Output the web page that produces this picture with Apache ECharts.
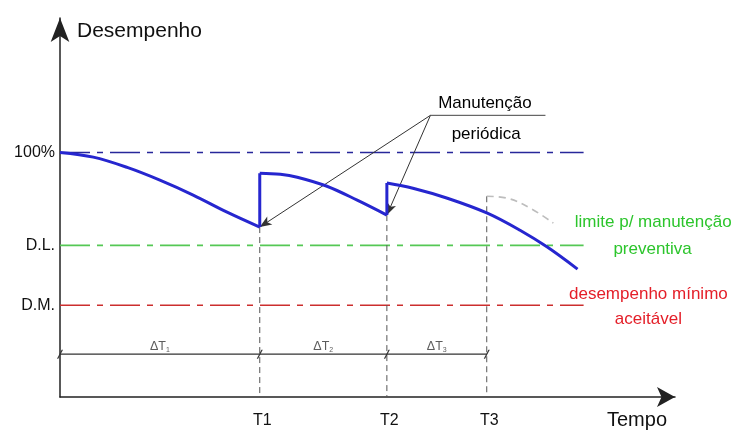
<!DOCTYPE html>
<html><head><meta charset="utf-8">
<script src="https://cdn.jsdelivr.net/npm/echarts@6/dist/echarts.min.js"></script>
<style>html,body{margin:0;padding:0;background:#fff}#c{width:735px;height:434px}</style>
</head><body><div id="c"></div><script>
// ---- data (time units on x, performance % on y) ----
const timeTicks = [33, 54, 70.5];
const timeLabels = ['T1', 'T2', 'T3'];
const levelValues = [100, 62, 37.5];
const levelLabels = ['100%', 'D.L.', 'D.M.'];
const cycle1 = [[0,100],[5.5,98.1],[11.1,93.9],[16.5,88.7],[22,82.6],[27.6,75.6],[33,69.5]];
const cycle2 = [[33,91.5],[36.4,91.1],[39.2,89.9],[44.1,86.2],[49.1,80.5],[54,74.4]];
const cycle3 = [[54,87.5],[58.3,85.4],[64,81.3],[70.6,75.2],[76,68.2],[80.5,61.3],[85.5,52.3]];
const skippedCycle = [[70.5,82.1],[73.9,81.3],[77.7,77.2],[81.5,71.1]];
const levelLineEnd = 86.5;
const intervalLevel = 17.5;
const intervalLabels = ['ΔT', 'ΔT', 'ΔT'];
const intervalSubs = ['1', '2', '3'];
const calloutOrigin = [61.2, 115.2];
const calloutEnd = [80.2, 115.2];
const calloutText = [['Manutenção', 70.2, 120.1], ['periódica', 70.4, 107.5]];
const dlText = [['limite p/ manutenção', 98.0, 71.5], ['preventiva', 97.9, 60.5]];
const dmText = [['desempenho mínimo', 97.2, 42.1], ['aceitável', 97.2, 31.9]];

const FONT = 'Liberation Sans, Arial, sans-serif';
const BLUE = '#2626cf';
const dashDot = [30, 7, 6, 7];

function seg(data, color, width, type, z) {
  return { type: 'line', data, symbol: 'none', silent: true, z: z || 2, animation: false,
    lineStyle: { color, width, type: type || 'solid' } };
}
function textSeries(items, color, size) {
  return { type: 'scatter', clip: false, silent: true, symbolSize: 1, z: 6, animation: false,
    itemStyle: { color: 'rgba(0,0,0,0)' },
    label: { show: true, position: 'inside', color, opacity: 1, fontSize: size, fontFamily: FONT, textBorderWidth: 0 },
    data: items.map(([t, x, y]) => ({ value: [x, y], label: { formatter: t } })) };
}

const refColors = ['#27279a', '#55c855', '#cc2e2e'];
const series = [];
levelValues.forEach((v, i) => series.push(seg([[0, v], [levelLineEnd, v]], refColors[i], 1.6, dashDot, 1)));
// vertical dashed lines at T1..T3
const tops = [cycle1[cycle1.length - 1][1], cycle2[cycle2.length - 1][1], skippedCycle[0][1]];
timeTicks.forEach((t, i) => series.push(seg([[t, tops[i]], [t, 0]], '#555', 1, [6, 4], 1)));
// interval dimension line
series.push({ type: 'line', silent: true, animation: false, z: 3,
  data: [[0, intervalLevel]].concat(timeTicks.map(t => [t, intervalLevel])),
  lineStyle: { color: '#333', width: 1.2 },
  symbol: 'path://M0,10 L7,0 L9,0 L2,10 Z', symbolSize: [6, 9], showSymbol: true,
  itemStyle: { color: '#333' } });
// interval labels
const bounds = [0].concat(timeTicks);
series.push({ type: 'scatter', clip: false, silent: true, symbolSize: 1, z: 6, animation: false,
  itemStyle: { color: 'rgba(0,0,0,0)' },
  label: { show: true, position: 'inside', color: '#333', fontFamily: FONT, textBorderWidth: 0,
    rich: { a: { fontSize: 12.5, color: '#333', fontFamily: FONT }, s: { fontSize: 7, color: '#333', fontFamily: FONT, padding: [6, 0, 0, 0] } } },
  data: intervalLabels.map((l, i) => ({ value: [(bounds[i] + bounds[i + 1]) / 2, intervalLevel + 3.0],
    label: { formatter: '{a|' + l + '}{s|' + intervalSubs[i] + '}' } })) });
// performance curves
[cycle1, cycle2, cycle3].forEach(c => { const s = seg(c, BLUE, 3, 'solid', 5); s.smooth = 0.35; series.push(s); });
series.push(seg([cycle1[cycle1.length - 1], cycle2[0]], BLUE, 3, 'solid', 5));
series.push(seg([cycle2[cycle2.length - 1], cycle3[0]], BLUE, 3, 'solid', 5));
const sk = seg(skippedCycle, '#bdbdbd', 1.6, [7, 5], 2); sk.smooth = 0.4; series.push(sk);
// callout
const call = seg([calloutOrigin, calloutEnd], '#444', 1, 'solid', 4);
call.markLine = { silent: true, animation: false, symbol: ['none', 'arrow'], symbolSize: [7, 12],
  lineStyle: { color: '#333', width: 1, type: 'solid' }, label: { show: false },
  data: [[{ coord: calloutOrigin }, { coord: cycle1[cycle1.length - 1] }],
         [{ coord: calloutOrigin }, { coord: cycle2[cycle2.length - 1] }]] };
series.push(call);
series.push(textSeries(calloutText, '#000', 17));
series.push(textSeries(dlText, '#2cc52c', 17));
series.push(textSeries(dmText, '#e41e28', 17));

const chart = echarts.init(document.getElementById('c'), null, { renderer: 'canvas' });
chart.setOption({
  animation: false,
  backgroundColor: '#ffffff',
  grid: { left: 60, right: 60, top: 18, bottom: 37, containLabel: false, outerBoundsMode: 'none' },
  xAxis: { type: 'value', min: 0, max: 101.6,
    axisLine: { show: true, onZero: false, symbol: ['none', 'arrow'], symbolSize: [15, 18], lineStyle: { color: '#222', width: 1.5 } },
    axisTick: { show: false }, splitLine: { show: false },
    axisLabel: { customValues: timeTicks, formatter: v => timeLabels[timeTicks.indexOf(v)], fontSize: 16, color: '#111', margin: 16, fontFamily: FONT, padding: [0, 0, 0, 5] },
    name: 'Tempo', nameLocation: 'end', nameGap: 0,
    nameTextStyle: { fontSize: 20, color: '#111', fontFamily: FONT, align: 'right', verticalAlign: 'top', padding: [13, 8, 0, 0] } },
  yAxis: { type: 'value', min: 0, max: 155,
    axisLine: { show: true, onZero: false, symbol: ['none', 'arrow'], symbolSize: [14, 24], lineStyle: { color: '#222', width: 1.5 } },
    axisTick: { show: false }, splitLine: { show: false },
    axisLabel: { customValues: levelValues, formatter: v => levelLabels[levelValues.indexOf(v)], fontSize: 16, color: '#111', margin: 5, fontFamily: FONT },
    name: 'Desempenho', nameLocation: 'end', nameGap: 0,
    nameTextStyle: { fontSize: 21, color: '#111', fontFamily: FONT, align: 'left', verticalAlign: 'top', padding: [3, 0, 0, 17] } },
  series
});
</script></body></html>
